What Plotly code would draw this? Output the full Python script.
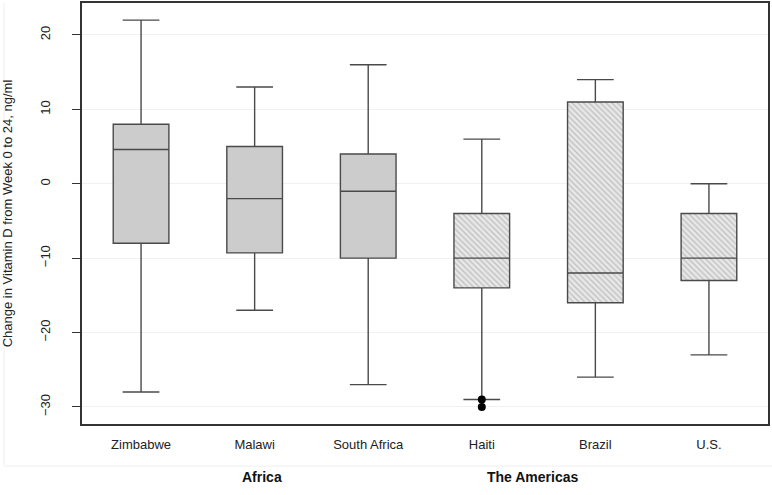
import plotly.graph_objects as go

# box statistics (ng/ml change, week 0 to 24)
africa = ["Zimbabwe", "Malawi", "South Africa"]
africa_low = [-28, -17, -27]
africa_q1 = [-8, -9.3, -10]
africa_med = [4.6, -2, -1]
africa_q3 = [8, 5, 4]
africa_high = [22, 13, 16]

americas = ["Haiti", "Brazil", "U.S."]
americas_low = [-29, -26, -23]
americas_q1 = [-14, -16, -13]
americas_med = [-10, -12, -10]
americas_q3 = [-4, 11, -4]
americas_high = [6, 14, 0]

outlier_x = ["Haiti", "Haiti"]
outlier_y = [-29, -30]

line_col = "#4a4a4a"

# hatched fill for the Americas boxes (bars drawn under the box outlines)
hatch = go.Bar(
    x=americas,
    base=americas_q1,
    y=[q3 - q1 for q1, q3 in zip(americas_q1, americas_q3)],
    width=0.49,
    marker=dict(color="#e4e4e4",
                line=dict(width=0),
                pattern=dict(shape="\\", size=4, solidity=0.35,
                             fgcolor="#9a9a9a", bgcolor="#e8e8e8")),
    hoverinfo="skip",
    showlegend=False)

box_africa = go.Box(
    x=africa, q1=africa_q1, median=africa_med, q3=africa_q3,
    lowerfence=africa_low, upperfence=africa_high,
    width=0.49, whiskerwidth=0.66,
    fillcolor="#cccccc", line=dict(color=line_col, width=1.4),
    boxpoints=False, showlegend=False)

box_americas = go.Box(
    x=americas, q1=americas_q1, median=americas_med, q3=americas_q3,
    lowerfence=americas_low, upperfence=americas_high,
    width=0.49, whiskerwidth=0.66,
    fillcolor="rgba(0,0,0,0)", line=dict(color=line_col, width=1.4),
    boxpoints=False, showlegend=False)

outliers = go.Scatter(
    x=outlier_x, y=outlier_y, mode="markers",
    marker=dict(color="black", size=8),
    showlegend=False)

fig = go.Figure(data=[hatch, box_africa, box_americas, outliers])

grid_col = "#eef2f2"

fig.update_layout(
    width=772, height=495,
    margin=dict(l=82, r=4, t=3, b=71),
    paper_bgcolor="white", plot_bgcolor="white",
    font=dict(family="Liberation Sans, Arial, sans-serif", size=13, color="#222"),
    bargap=0,
    annotations=[
        dict(text="<b>Africa</b>", x=0.23, y=-0.15, xref="paper", yref="paper",
             showarrow=False, font=dict(size=14, color="#111")),
        dict(text="<b>The Americas</b>", x=0.727, y=-0.15, xref="paper", yref="paper",
             showarrow=False, font=dict(size=14, color="#111")),
    ],
    shapes=[
        dict(type="line", xref="paper", yref="paper", x0=-0.1137, x1=1.006,
             y0=-0.10, y1=-0.10, line=dict(color=grid_col, width=1)),
        dict(type="line", xref="paper", yref="paper", x0=-0.1137, x1=-0.1137,
             y0=-0.10, y1=1.0, line=dict(color=grid_col, width=1)),
    ],
)

fig.update_xaxes(
    categoryorder="array", categoryarray=africa + americas,
    range=[-0.52, 5.52], automargin=False,
    showline=True, mirror=True, linecolor="#333", linewidth=1.5,
    ticks="", showgrid=False, ticklabelstandoff=8,
    tickfont=dict(size=13, color="#222"))

fig.update_yaxes(
    range=[-32.3, 24.3], automargin=False,
    tickvals=[-30, -20, -10, 0, 10, 20],
    tickangle=-90,
    ticks="outside", ticklen=8, tickcolor="#333", tickwidth=1,
    ticklabelstandoff=17,
    showline=True, mirror=True, linecolor="#333", linewidth=1.5,
    showgrid=True, gridcolor=grid_col, gridwidth=1,
    zeroline=False,
    title=dict(text="Change in Vitamin D from Week 0 to 24, ng/ml",
               font=dict(size=13, color="#222"), standoff=22),
    tickfont=dict(size=13, color="#222"))

# drop the browser's default page margin so the figure sits at (0, 0)
fig.write_html("out.html", config={"displayModeBar": False},
               post_script="document.body.style.margin = '0';")
